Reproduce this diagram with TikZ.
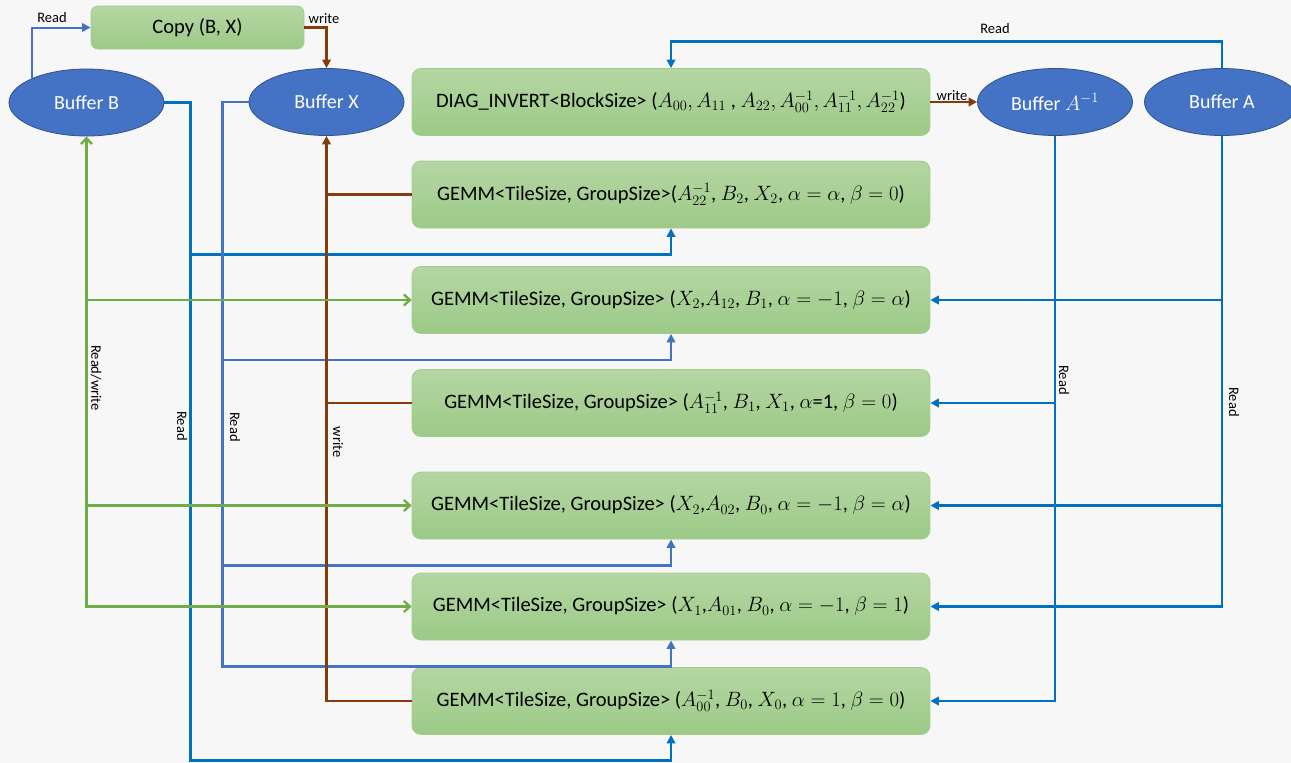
\documentclass[tikz,border=0pt]{standalone}
\usepackage{fontspec}
\setmainfont{Carlito}
\usetikzlibrary{arrows.meta,shapes.geometric}
\definecolor{bgc}{HTML}{F7F7F7}
\definecolor{bufFill}{HTML}{4472C4}
\definecolor{bufLine}{HTML}{2F528F}
\definecolor{boxTop}{HTML}{B5D6A4}
\definecolor{boxBot}{HTML}{9CCA86}
\definecolor{boxLine}{HTML}{A3CD8E}
\definecolor{readBlue}{HTML}{0070C0}
\definecolor{xBlue}{HTML}{4472C4}
\definecolor{wBrown}{HTML}{843C0C}
\definecolor{rwGreen}{HTML}{70AD47}
\begin{document}
\begin{tikzpicture}[x=1pt,y=-1pt,
  proc/.style={draw=boxLine, line width=0.8pt, rounded corners=9pt,
    top color=boxTop, bottom color=boxBot, minimum width=518pt,
    minimum height=67pt, inner sep=0pt, font=\fontsize{20.5}{24}\selectfont},
  buf/.style={ellipse, draw=bufLine, line width=0.8pt, fill=bufFill,
    text=white, minimum width=155pt, minimum height=67pt, inner sep=0pt,
    font=\fontsize{20}{24}\selectfont},
  tip/.style={-{Triangle[length=8.5pt,width=8.5pt]}},
  rd/.style={line width=2.3pt, draw=readBlue},
  xr/.style={line width=2.3pt, draw=xBlue},
  wr/.style={line width=2.3pt, draw=wBrown},
  rw/.style={line width=2.3pt, draw=rwGreen},
  barb/.style={-{Straight Barb[length=6pt,width=11pt]}},
  lbl/.style={font=\fontsize{14.5}{17}\selectfont, inner sep=0pt},
]
\fill[bgc] (0,0) rectangle (1291,763);
\useasboundingbox (0,0) rectangle (1291,763);

% buffers and kernels
\node[proc, minimum width=213pt, minimum height=43pt, rounded corners=7pt]
  (copy) at (197.5,27.5) {Copy (B, X)};
\node[buf] (bb) at (86.5,102.5) {Buffer B};
\node[buf] (bx) at (326.5,102) {Buffer X};
\node[proc] (diag) at (671,102)
  {DIAG\_INVERT<BlockSize> ($A_{00}, A_{11}$ , $A_{22}, A_{00}^{-1}, A_{11}^{-1}, A_{22}^{-1}$)};
\node[buf] (bai) at (1055,102) {Buffer $A^{-1}$};
\node[buf] (ba) at (1222,102) {Buffer A};

\node[proc] (g1) at (671,194.5)
  {GEMM<TileSize, GroupSize>($A_{22}^{-1}$, $B_2$, $X_2$, $\alpha=\alpha$, $\beta=0$)};
\node[proc] (g2) at (671,300)
  {GEMM<TileSize, GroupSize> ($X_2$,$A_{12}$, $B_1$, $\alpha=-1$, $\beta=\alpha$)};
\node[proc] (g3) at (671,403)
  {GEMM<TileSize, GroupSize> ($A_{11}^{-1}$, $B_1$, $X_1$, $\alpha$=1, $\beta=0$)};
\node[proc] (g4) at (671,505.5)
  {GEMM<TileSize, GroupSize> ($X_2$,$A_{02}$, $B_0$, $\alpha=-1$, $\beta=\alpha$)};
\node[proc] (g5) at (671,606.5)
  {GEMM<TileSize, GroupSize> ($X_1$,$A_{01}$, $B_0$, $\alpha=-1$, $\beta=1$)};
\node[proc] (g6) at (671,701)
  {GEMM<TileSize, GroupSize> ($A_{00}^{-1}$, $B_0$, $X_0$, $\alpha=1$, $\beta=0$)};

% bus corners and junctions
\coordinate (bBus) at (190.5,760.5);
\coordinate (bJ1) at (190.5,254.5);
\coordinate (xBus) at (222.5,666.5);
\coordinate (xJ2) at (222.5,360);
\coordinate (xJ4) at (222.5,565.5);
\coordinate (aTop) at (1222,41.5);

% copy kernel
\draw[xr, line width=2pt, tip] (bb.156) |- (copy.west);
\draw[wr, tip] (copy.east) -| (bx.north);
\node[lbl] (lcr) at (52,18) {Read};
\node[lbl] (lcw) at (324,19) {write};

% reads of B
\draw[rd, tip] (bb.east) -| (bBus) -| (g6.south);
\draw[rd, tip] (bJ1) -| (g1.south);

% reads of X
\draw[xr, tip] (bx.west) -| (xBus) -| (g5.south);
\draw[xr, tip] (xJ2) -| (g2.south);
\draw[xr, tip] (xJ4) -| (g4.south);

% writes of X
\draw[wr, tip] (g6.west) -| (bx.south);
\draw[wr] (g1.west) -- (g1.west -| bx.south);
\draw[wr] (g3.west) -- (g3.west -| bx.south);

% read/write of B
\draw[rw, {Straight Barb[length=6pt,width=11pt]}-{Straight Barb[length=6pt,width=11pt]}]
  (bb.south) |- (g5.west);
\draw[rw, barb] (g2.west -| bb.south) -- (g2.west);
\draw[rw, barb] (g4.west -| bb.south) -- (g4.west);

% diagonal inversion
\draw[rd, tip] (ba.north) -- (aTop) -| (diag.north);
\node[lbl] (ltr) at (995,29) {Read};
\draw[wr, tip] (diag.east) -- (bai.west);
\node[lbl] (ltw) at (952,95.5) {write};

% reads of A^{-1} and A
\draw[rd, tip] (bai.south) |- (g6.east);
\draw[rd, tip] (g3.east -| bai.south) -- (g3.east);
\draw[rd, tip] (ba.south) |- (g5.east);
\draw[rd, tip] (g2.east -| ba.south) -- (g2.east);
\draw[rd, tip] (g4.east -| ba.south) -- (g4.east);

% vertical labels
\node[lbl, rotate=-90] (lrw) at (96,378) {Read/write};
\node[lbl, rotate=-90] (lbr) at (182,426) {Read};
\node[lbl, rotate=-90] (lxr) at (235,427) {Read};
\node[lbl, rotate=-90] (lxw) at (338,442) {write};
\node[lbl, rotate=-90] (lir) at (1064,380) {Read};
\node[lbl, rotate=-90] (lar) at (1234,402) {Read};
\end{tikzpicture}
\end{document}
